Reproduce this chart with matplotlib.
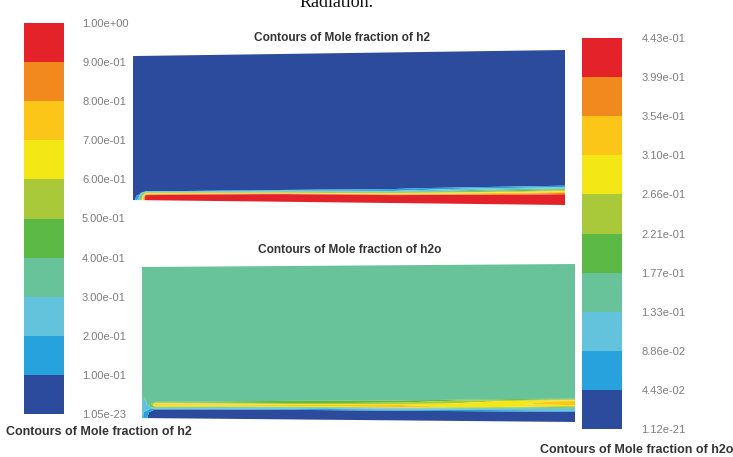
import numpy as np
import matplotlib
matplotlib.use("Agg")
import matplotlib.pyplot as plt
from matplotlib.colors import ListedColormap, BoundaryNorm
from matplotlib.cm import ScalarMappable

W, H = 733, 457

# Fluent style band colours, lowest band first
band_colors = ['#2d4b9d', '#28a2dc', '#63c2dc', '#68c39b', '#5db946',
               '#a9c93a', '#f3e715', '#fbc617', '#f2891f', '#e3222a']

# colour bar labels as printed (bottom to top)
h2_ticks = ['1.05e-23', '1.00e-01', '2.00e-01', '3.00e-01', '4.00e-01', '5.00e-01',
            '6.00e-01', '7.00e-01', '8.00e-01', '9.00e-01', '1.00e+00']
h2o_ticks = ['1.12e-21', '4.43e-02', '8.86e-02', '1.33e-01', '1.77e-01', '2.21e-01',
             '2.66e-01', '3.10e-01', '3.54e-01', '3.99e-01', '4.43e-01']

# field samples: s = along channel, t = across height (0 = lower wall)
s_pts = [0.0, 0.015, 0.03, 0.35, 0.6, 1.0]
t_h2 = [0.0, 0.03, 0.05, 0.065, 0.08, 0.10, 0.12, 0.14, 1.0]
h2_field = [
    [0.0, 0.3, 1.0, 1.0, 1.0, 1.0],
    [0.0, 0.2, 1.0, 1.0, 1.0, 1.0],
    [0.0, 0.0, 0.6, 0.95, 0.96, 1.0],
    [0.0, 0.0, 0.0, 0.45, 0.6, 0.95],
    [0.0, 0.0, 0.0, 0.10, 0.2, 0.78],
    [0.0, 0.0, 0.0, 0.01, 0.04, 0.42],
    [0.0, 0.0, 0.0, 0.0, 0.0, 0.12],
    [0.0, 0.0, 0.0, 0.0, 0.0, 0.03],
    [0.0, 0.0, 0.0, 0.0, 0.0, 0.0],
]
t_h2o = [0.0, 0.04, 0.06, 0.075, 0.09, 0.11, 0.13, 0.15, 1.0]
h2o_field = [
    [0.10, 0.03, 0.0, 0.0, 0.0, 0.0],
    [0.10, 0.05, 0.0, 0.0, 0.0, 0.0],
    [0.10, 0.10, 0.05, 0.03, 0.03, 0.02],
    [0.10, 0.12, 0.25, 0.12, 0.12, 0.10],
    [0.10, 0.15, 0.33, 0.34, 0.37, 0.16],
    [0.10, 0.15, 0.17, 0.20, 0.24, 0.34],
    [0.12, 0.155, 0.155, 0.16, 0.17, 0.33],
    [0.155, 0.155, 0.155, 0.155, 0.155, 0.17],
    [0.155, 0.155, 0.155, 0.155, 0.155, 0.155],
]

cmap = ListedColormap(band_colors)
label_color = '#7d7d7d'
title_color = '#333333'
plt.rcParams['font.family'] = ['Liberation Sans', 'DejaVu Sans']


def px(x0, y0, x1, y1):
    return [x0 / W, 1 - y1 / H, (x1 - x0) / W, (y1 - y0) / H]


def panel(rect, field, t_pts, ticks, bot, top):
    levels = [float(v) for v in ticks]
    norm = BoundaryNorm(levels, cmap.N)
    ax = fig.add_axes(rect)
    S, T = np.meshgrid(s_pts, t_pts)
    # slightly tilted channel as in the screenshot
    ylo = bot[0] + (bot[1] - bot[0]) * S
    yhi = top[0] + (top[1] - top[0]) * S
    Y = ylo + T * (yhi - ylo)
    Z = np.clip(np.array(field), levels[0], levels[-1])
    ax.contourf(S, Y, Z, levels=levels, cmap=cmap, norm=norm, antialiased=True)
    ax.set_xlim(0, 1)
    ax.set_ylim(0, 1)
    ax.axis('off')
    return norm


def bar(rect, norm, ticks, pad):
    cax = fig.add_axes(rect)
    cb = fig.colorbar(ScalarMappable(norm=norm, cmap=cmap), cax=cax,
                      ticks=[float(v) for v in ticks])
    cb.ax.set_yticklabels(ticks)
    cb.outline.set_visible(False)
    cb.ax.tick_params(length=0, pad=pad, labelsize=8, labelcolor=label_color)
    return cb


fig = plt.figure(figsize=(W / 100, H / 100), dpi=100)
fig.patch.set_facecolor('white')

norm_h2 = panel(px(133, 50, 565, 205), h2_field, t_h2, h2_ticks,
                bot=(0.032, 0.0), top=(0.961, 1.0))
norm_h2o = panel(px(142, 264, 575, 422), h2o_field, t_h2o, h2o_ticks,
                 bot=(0.025, 0.0), top=(0.981, 1.0))

bar(px(24, 23, 64, 414), norm_h2, h2_ticks, pad=13)
bar(px(582, 38, 622, 429), norm_h2o, h2o_ticks, pad=14)

fig.text(342 / W, 1 - 38 / H, 'Contours of Mole fraction of h2', ha='center', va='center',
         fontsize=8.6, weight='bold', color=title_color)
fig.text(350 / W, 1 - 250 / H, 'Contours of Mole fraction of h2o', ha='center', va='center',
         fontsize=8.6, weight='bold', color=title_color)
fig.text(6 / W, 1 - 432 / H, 'Contours of Mole fraction of h2', ha='left', va='center',
         fontsize=9, weight='bold', color=title_color)
fig.text(540 / W, 1 - 450 / H, 'Contours of Mole fraction of h2o', ha='left', va='center',
         fontsize=9, weight='bold', color=title_color)
fig.text(337 / W, 1 - 7 / H, 'Radiation.', ha='center', va='baseline',
         fontsize=13, family='Liberation Serif', color='#111111')

fig.savefig('out.png', dpi=100, facecolor='white')
